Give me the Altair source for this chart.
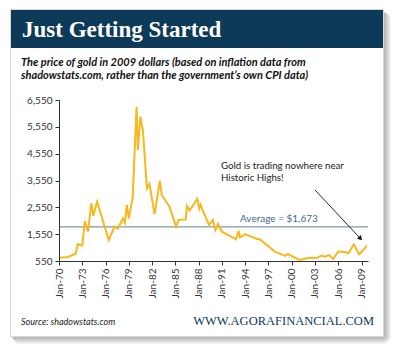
import altair as alt
import pandas as pd

# ---- data ----
dates = ["1970-01", "1971-03", "1972-03", "1972-06", "1973-01", "1973-05", "1973-10",
         "1974-03", "1974-06", "1974-12", "1976-06", "1977-03", "1977-08", "1978-04",
         "1978-07", "1978-10", "1979-01", "1979-07", "1980-01", "1980-03", "1980-07",
         "1980-11", "1981-05", "1981-09", "1982-05", "1983-01", "1983-04", "1984-04",
         "1985-02", "1985-06", "1986-05", "1986-07", "1986-11", "1987-11", "1988-02",
         "1988-04", "1989-05", "1989-11", "1990-03", "1990-07", "1991-01", "1992-11",
         "1993-03", "1993-05", "1994-01", "1995-08", "1995-11", "1997-11", "1999-03",
         "1999-07", "2001-01", "2002-03", "2003-04", "2003-11", "2004-04", "2004-11",
         "2005-05", "2006-01", "2006-11", "2007-05", "2008-01", "2008-09", "2009-04",
         "2009-09"]
prices = [670, 700, 820, 1180, 1120, 2040, 1640,
          2700, 2240, 2760, 1330, 1830, 1760, 2140,
          1980, 2640, 2140, 2890, 6300, 4690, 5930,
          5370, 3260, 3420, 2300, 3540, 3010, 2570,
          1830, 2080, 2100, 2600, 2430, 2870, 2500,
          2640, 1890, 2080, 1700, 1930, 1640, 1360,
          1680, 1430, 1550, 1360, 1370, 900, 740,
          810, 590, 660, 670, 750, 710, 770,
          625, 900, 885, 840, 1170, 800, 960,
          1120]
y_ticks = [550, 1550, 2550, 3550, 4550, 5550, 6550]
x_ticks = ["1970-01-01", "1973-01-01", "1976-01-01", "1979-01-01", "1982-01-01",
           "1985-01-01", "1988-01-01", "1991-01-01", "1994-01-01", "1997-01-01",
           "2000-01-01", "2003-01-01", "2006-01-01", "2009-01-01"]
average_label = "Average = $1,673"
average_drawn_at = [1820]
title = "Just Getting Started"
subtitle = ["The price of gold in 2009 dollars (based on inflation data from",
            "shadowstats.com, rather than the government\u2019s own CPI data)"]
note = ["Gold is trading nowhere near", "Historic Highs!"]
source = "Source: shadowstats.com"
brand = "WWW.AGORAFINANCIAL.COM"

df = pd.DataFrame({"date": pd.to_datetime(dates), "price": prices})
one = pd.DataFrame({"k": [0]})

# plot area origin in page pixels
OX, OY = 59, 100
W, H = 309, 161


def px(v):
    return alt.value(v - OX)


def py(v):
    return alt.value(v - OY)


def box(x1, y1, x2, y2, color, opacity=1.0, radius=0):
    return alt.Chart(one).mark_rect(color=color, opacity=opacity, cornerRadius=radius).encode(
        x=px(x1), x2=px(x2), y=py(y1), y2=py(y2))


def label(x, y, txt, **kw):
    return alt.Chart(one).mark_text(text=txt, **kw).encode(x=px(x), y=py(y))


layers = []
# card shadow
for k in range(1, 9):
    layers.append(box(12, 12, 383 + k, 336 + k, "#000000", 0.045, k))
layers.append(box(10, 9, 384, 337, "#d8d8d8", 1.0))
layers.append(box(11, 10, 383, 336, "#ffffff", 1.0))
layers.append(box(11, 10, 383, 48, "#0e3a5a", 1.0))

layers.append(label(22, 37, title, font="Liberation Serif", fontSize=23, fontWeight="bold",
                    color="#ffffff", align="left", baseline="alphabetic"))
layers.append(label(21, 66, subtitle[0], font="Lato", fontSize=11, fontWeight="bold",
                    fontStyle="italic", color="#111111", align="left", baseline="alphabetic"))
layers.append(label(21, 79, subtitle[1], font="Lato", fontSize=11, fontWeight="bold",
                    fontStyle="italic", color="#111111", align="left", baseline="alphabetic"))

layers.append(label(21, 325, source, font="Lato", fontSize=9, fontStyle="italic",
                    color="#222222", align="left", baseline="alphabetic"))
layers.append(label(374, 325, brand, font="Liberation Serif", fontSize=12.5,
                    color="#0e3a5a", align="right", baseline="alphabetic"))

x_scale = alt.Scale(domain=[pd.Timestamp("1970-01-01").isoformat(),
                            pd.Timestamp("2009-11-01").isoformat()])
y_scale = alt.Scale(domain=[550, 6550], nice=False, zero=False)

y_axis = alt.Axis(values=y_ticks, format=",.0f", title=None, grid=False,
                  domainColor="#333333", tickColor="#333333", tickSize=4,
                  labelFont="Lato", labelFontSize=10, labelColor="#333333",
                  labelPadding=3, zindex=1, labelOverlap=False, labelFlush=False)

avg = alt.Chart(pd.DataFrame({"price": average_drawn_at})).mark_rule(
    color="#7d97a6", strokeWidth=1.2).encode(y=alt.Y("price:Q", scale=y_scale, axis=y_axis))

line = alt.Chart(df).mark_line(color="#f8b81c", strokeWidth=2).encode(
    x=alt.X("date:T", scale=x_scale,
            axis=alt.Axis(values=[pd.Timestamp(t).isoformat() for t in x_ticks],
                          format="%b-%y", labelAngle=-90, title=None, grid=False,
                          domainColor="#333333", tickColor="#333333", tickSize=4,
                          labelFont="Lato", labelFontSize=10, labelColor="#333333",
                          labelPadding=3, zindex=1, labelOverlap=False)),
    y=alt.Y("price:Q", scale=y_scale, axis=y_axis))

layers.append(avg)
layers.append(line)
layers.append(label(240, 222, average_label, font="Lato", fontSize=10, color="#46698a",
                    align="left", baseline="alphabetic"))
layers.append(label(221, 169, note[0], font="Lato", fontSize=9.7, color="#222222",
                    align="left", baseline="alphabetic"))
layers.append(label(221, 181, note[1], font="Lato", fontSize=9.7, color="#222222",
                    align="left", baseline="alphabetic"))
layers.append(alt.Chart(one).mark_rule(color="#111111", strokeWidth=0.9).encode(
    x=px(315), y=py(190), x2=px(359), y2=py(237)))
layers.append(alt.Chart(one).mark_point(shape="triangle-up", filled=True, color="#111111",
                                         size=28, angle=137, opacity=1).encode(
    x=px(360.5), y=py(238.5)))

chart = alt.layer(*layers).properties(
    width=W, height=H,
    autosize=alt.AutoSizeParams(type="none"),
    padding={"left": OX, "top": OY, "right": 400 - OX - W, "bottom": 354 - OY - H},
    background="#ffffff",
).configure_view(stroke=None).configure_axisY(labelOverlap=False)

chart.save("out.html", embed_options={"renderer": "svg", "actions": False})
